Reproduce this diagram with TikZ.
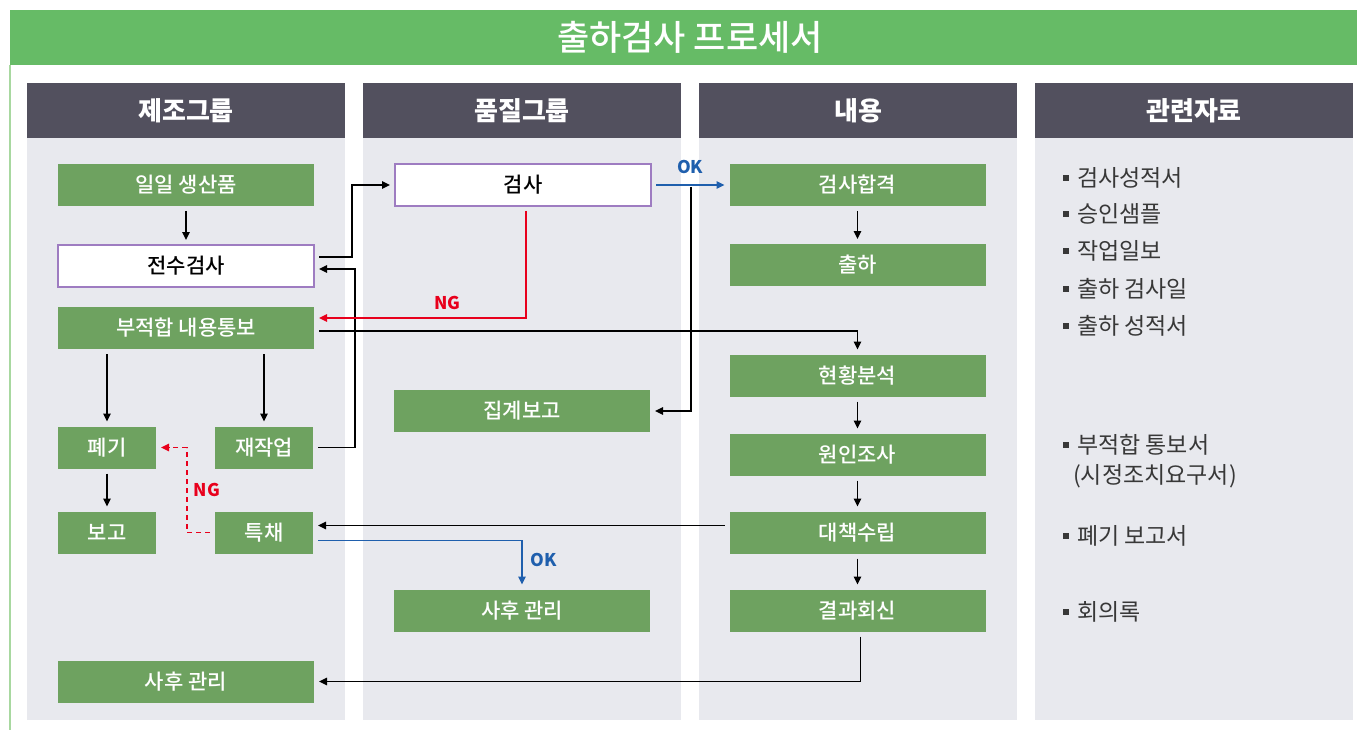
\documentclass[tikz,border=0pt]{standalone}
\usepackage{fontspec}
\setmainfont{Noto Sans CJK KR}
\newfontfamily\medfont{Noto Sans CJK KR Medium}
\usetikzlibrary{arrows.meta}

\definecolor{titlegreen}{HTML}{66BB66}
\definecolor{edgegreen}{HTML}{A8D8A0}
\definecolor{boxgreen}{HTML}{6EA260}
\definecolor{headgray}{HTML}{52505E}
\definecolor{lanegray}{HTML}{E8E9EE}
\definecolor{chkpurple}{HTML}{9E7CC1}
\definecolor{ngred}{HTML}{E8001C}
\definecolor{okblue}{HTML}{1F5FAD}
\definecolor{itemgray}{HTML}{383838}

\tikzset{
    head/.style={fill=headgray, text=white, inner sep=0pt,
        minimum width=318pt, minimum height=55pt,
        font=\fontsize{26}{30}\selectfont\bfseries},
    box/.style={fill=boxgreen, text=white, inner sep=0pt, outer sep=5pt,
        minimum width=256pt, minimum height=42pt,
        font=\fontsize{21}{25}\medfont},
    small/.style={box, minimum width=98pt},
    chk/.style={box, fill=white, text=black, draw=chkpurple, line width=2pt},
    flow/.style={-{Triangle[length=8pt,width=7.5pt]}, line width=1.5pt},
    tag/.style={inner sep=0pt, font=\fontsize{17.5}{20}\selectfont\bfseries},
    item/.style={anchor=west, inner sep=0pt, text=itemgray,
        font=\fontsize{23}{27}\selectfont},
}
\newcommand\bul{\raisebox{6pt}{\rule{6pt}{6pt}}\hspace{8pt}}

\begin{document}
\begin{tikzpicture}[x=1pt, y=-1pt]
        \useasboundingbox (0,0) rectangle (1357,730);
        \fill[titlegreen] (10,10) rectangle (1357,65);
        \draw[edgegreen, line width=1.5pt] (10,65) -- (10,730);
        \node[text=white, font=\fontsize{35}{40}\medfont] (ttl) at (690,37.5) {출하검사 프로세서};

        \fill[lanegray] (27,138) rectangle (345,720);
        \fill[lanegray] (363,138) rectangle (681,720);
        \fill[lanegray] (699,138) rectangle (1017,720);
        \fill[lanegray] (1035,138) rectangle (1353,720);
        \node[head] (h1) at (186,110.5)  {제조그룹};
        \node[head] (h2) at (522,110.5)  {품질그룹};
        \node[head] (h3) at (858,110.5)  {내용};
        \node[head] (h4) at (1194,110.5) {관련자료};

        \node[box]   (sp)  at (186,185)   {일일 생산품};
        \node[chk]   (fi)  at (186,266)   {전수검사};
        \node[box]   (nc)  at (186,328)   {부적합 내용통보};
        \node[small] (ds)  at (107,447.5) {폐기};
        \node[small] (rw)  at (264,447.5) {재작업};
        \node[small] (rp)  at (107,532.5) {보고};
        \node[small] (sa)  at (264,532.5) {특채};
        \node[box]   (am1) at (186,681.5) {사후 관리};

        \node[chk]   (ins) at (523,185)   {검사};
        \node[box]   (sum) at (522,411)   {집계보고};
        \node[box]   (am2) at (522,610.5) {사후 관리};

        \node[box]   (ok)  at (857.5,185)   {검사합격};
        \node[box]   (sh)  at (857.5,265)   {출하};
        \node[box]   (an)  at (857.5,375.5) {현황분석};
        \node[box]   (ca)  at (857.5,454.5) {원인조사};
        \node[box]   (pl)  at (857.5,532.5) {대책수립};
        \node[box]   (fb)  at (857.5,610.5) {결과회신};

        \node[item] (r1) at (1063,178) {\bul 검사성적서};
        \node[item] (r2) at (1063,214) {\bul 승인샘플};
        \node[item] (r3) at (1063,251) {\bul 작업일보};
        \node[item] (r4) at (1063,289) {\bul 출하 검사일};
        \node[item] (r5) at (1063,326) {\bul 출하 성적서};
        \node[item] (r6) at (1063,445) {\bul 부적합 통보서};
        \node[item] (r7) at (1073,476) {(시정조치요구서)};
        \node[item] (r8) at (1063,536) {\bul 폐기 보고서};
        \node[item] (r9) at (1063,612) {\bul 회의록};

        \draw[flow] (sp) -- (fi);
        \draw[flow] ([yshift=9pt]fi.east) -- ++(33,0) |- (ins.west);
        \draw[flow] (rw.east) -- ++(37,0) |- ([yshift=-3pt]fi.east);
        \draw[flow, ngred] ([xshift=3pt]ins.south) |- ([yshift=10pt]nc.east)
            node[tag, pos=0.69, above=8pt] {NG};
        \draw[flow] ([yshift=-3pt]nc.east) -| (an.north);
        \draw[flow] (ds.north |- nc.south) -- (ds.north);
        \draw[flow] (rw.north |- nc.south) -- (rw.north);
        \draw[flow] (ds) -- (rp);
        \draw[flow, ngred, dash pattern=on 5pt off 4pt] (sa.west) -- ++(-23,0) |- (ds.east)
            node[tag, pos=0.25, right=6pt] {NG};
        \draw[flow, okblue] ([yshift=-8pt]sa.east) -| (am2.north)
            node[tag, pos=0.72, right=8pt] {OK};
        \draw[flow, okblue] (ins.east) -- (ok.west)
            node[tag, midway, above=11pt] {OK};
        \draw[flow] ([xshift=35pt, yshift=-2pt]ins.east) |- (sum.east);
        \draw[flow] (ok) -- (sh);
        \draw[flow] (an) -- (ca);
        \draw[flow] (ca) -- (pl);
        \draw[flow] (pl) -- (fb);
        \draw[flow] ([yshift=7pt]pl.west) -- ([yshift=7pt]sa.east);
        \draw[flow] ([xshift=3pt]fb.south) |- (am1.east);
\end{tikzpicture}
\end{document}
